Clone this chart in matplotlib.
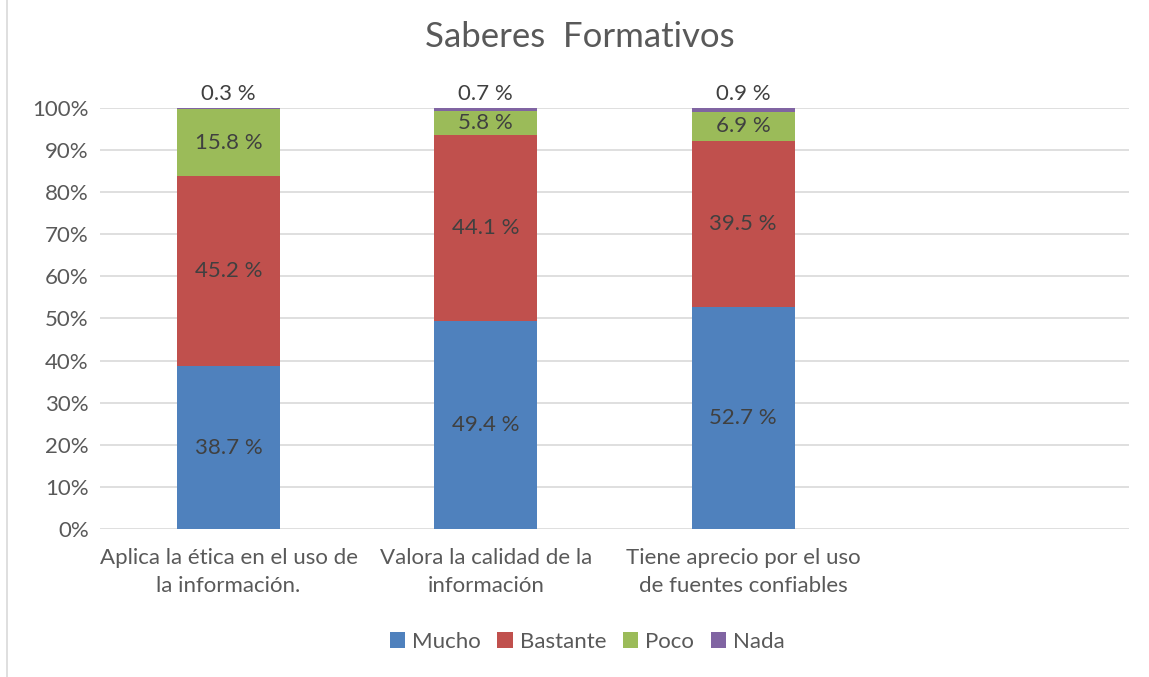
import numpy as np
import matplotlib.pyplot as plt
from matplotlib.patches import Rectangle

# Data (percentages)
categories = ["Aplica la ética en el uso de\nla información.",
              "Valora la calidad de la\ninformación",
              "Tiene aprecio por el uso\nde fuentes confiables",
              ""]
mucho = [38.7, 49.4, 52.7]
bastante = [45.2, 44.1, 39.5]
poco = [15.8, 5.8, 6.9]
nada = [0.3, 0.7, 0.9]

series = [("Mucho", mucho, "#4F81BD"),
          ("Bastante", bastante, "#C0504D"),
          ("Poco", poco, "#9BBB59"),
          ("Nada", nada, "#8064A2")]

plt.rcParams['font.family'] = ['Lato', 'DejaVu Sans']
text_color = "#595959"

fig = plt.figure(figsize=(11.49, 6.77), dpi=100)
ax = fig.add_axes([0.087, 0.2186, 0.8956, 0.6219])

x = np.arange(len(mucho))
bottom = np.zeros(len(mucho))
for name, vals, color in series:
    vals = np.array(vals)
    ax.bar(x, vals / 100, 0.4, bottom=bottom / 100, color=color, label=name, zorder=3)
    for xi, b, v in zip(x, bottom, vals):
        if name == "Nada":
            ax.text(xi, (b + v) / 100 + 0.01, f"{v:.1f} %", ha="center", va="bottom",
                    fontsize=16, color="#404040")
        else:
            ax.text(xi, (b + v / 2) / 100, f"{v:.1f} %", ha="center", va="center",
                    fontsize=16, color="#404040")
    bottom += vals

ax.set_xlim(-0.5, 3.5)
ax.set_ylim(0, 1)
ax.set_yticks(np.arange(0, 1.01, 0.1))
ax.set_yticklabels([f"{int(round(t * 100))}%" for t in np.arange(0, 1.01, 0.1)])
ax.set_xticks(np.arange(4))
ax.set_xticklabels(categories, linespacing=1.45)
ax.tick_params(axis="both", length=0, labelsize=16, labelcolor=text_color)
ax.tick_params(axis="x", pad=14)
ax.tick_params(axis="y", pad=8)
ax.grid(axis="y", color="#d9d9d9", linewidth=1.2, zorder=0)
for s in ax.spines.values():
    s.set_visible(False)

fig.text(0.505, 0.945, "Saberes  Formativos", ha="center", va="center",
         fontsize=25, color=text_color)

fig.legend(loc="center", bbox_to_anchor=(0.511, 0.052), ncol=4, frameon=False,
           fontsize=16, handlelength=0.7, handleheight=0.7, handletextpad=0.3,
           columnspacing=0.75, labelcolor=text_color)

# chart frame
fig.patches.append(Rectangle((0.006, -0.01), 1.0, 1.02, transform=fig.transFigure,
                             fill=False, edgecolor="#d9d9d9", linewidth=1.2))

fig.savefig("out.png", dpi=100)
